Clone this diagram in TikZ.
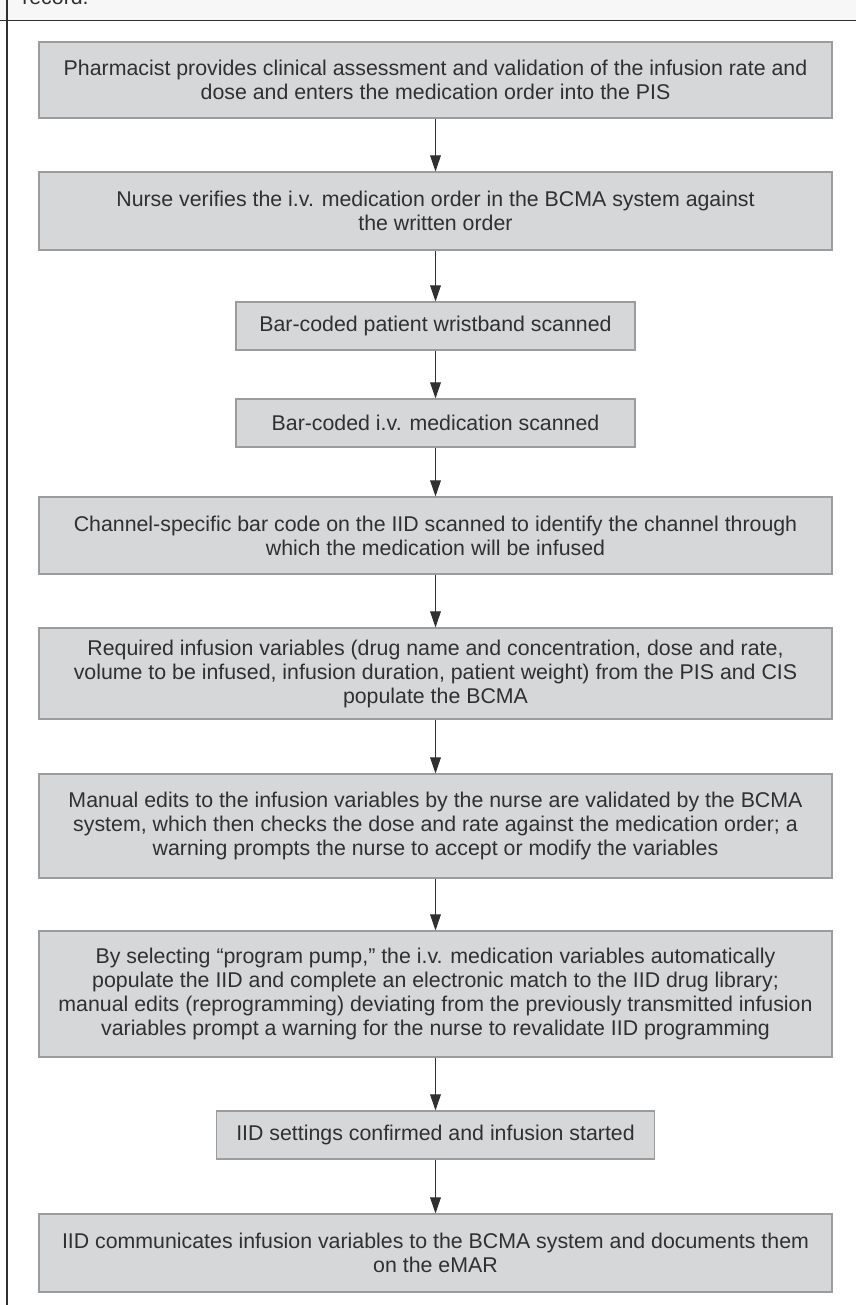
\documentclass[tikz,border=0pt]{standalone}
\usepackage{fontspec}
\setmainfont{Liberation Sans}
\usetikzlibrary{arrows.meta}
\usetikzlibrary{positioning}
\definecolor{boxfill}{HTML}{D6D7D9}
\definecolor{boxline}{HTML}{9C9C9C}
\definecolor{ink}{HTML}{303030}
\definecolor{band}{HTML}{F7F7F7}

\begin{document}
\begin{tikzpicture}[x=0.75pt, y=-0.75pt,
    stepbox/.style={draw=boxline, line width=0.8pt, fill=boxfill, text=ink, font=\fontsize{16}{18}\selectfont, align=center, inner sep=0pt, minimum width=594.75pt, minimum height=#1*0.75pt},
    shortbox/.style={stepbox=48, minimum width=#1*0.75pt},
    flow/.style={draw=ink, line width=0.75pt, -{Triangle[length=12pt, width=8pt]}}]
    \useasboundingbox (0,0) rectangle (856,1305);
    \clip (0,0) rectangle (856,1305);
    % strip of the caption above
    \fill[band] (0,0) rectangle (856,21);
    \node[anchor=base west, inner sep=0pt, text=ink, font=\fontsize{16}{18}\selectfont] (rec) at (22,4.5) {record.};
    \draw[ink, line width=0.75pt] (0,21) -- (856,21);
    \draw[ink, line width=0.8pt] (7,0) -- (7,1305);
    % steps
    \node[stepbox=76] (pharm) at (435.5,80) {Pharmacist provides clinical assessment and validation of the infusion rate and\\dose and enters the medication order into the PIS};
    \node[stepbox=78] (nurse) at (435.5,211) {Nurse verifies the i.v. medication order in the BCMA system against\\the written order};
    \node[shortbox=399] (wrist) at (435.5,326) {Bar-coded patient wristband scanned};
    \node[shortbox=399] (med) at (435.5,423) {Bar-coded i.v. medication scanned};
    \node[stepbox=77] (chan) at (435.5,535.5) {Channel-specific bar code on the IID scanned to identify the channel through\\which the medication will be infused};
    \node[stepbox=91] (vars) at (435.5,673.5) {Required infusion variables (drug name and concentration, dose and rate,\\volume to be infused, infusion duration, patient weight) from the PIS and CIS\\populate the BCMA};
    \node[stepbox=104] (edits) at (435.5,826) {Manual edits to the infusion variables by the nurse are validated by the BCMA\\system, which then checks the dose and rate against the medication order; a\\warning prompts the nurse to accept or modify the variables};
    \node[stepbox=126] (pump) at (435.5,994) {By selecting “program pump,” the i.v. medication variables automatically\\populate the IID and complete an electronic match to the IID drug library;\\manual edits (reprogramming) deviating from the previously transmitted infusion\\variables prompt a warning for the nurse to revalidate IID programming};
    \node[shortbox=438] (start) at (435.5,1135) {IID settings confirmed and infusion started};
    \node[stepbox=78] (emar) at (435.5,1253) {IID communicates infusion variables to the BCMA system and documents them\\on the eMAR};
    % arrows
    \foreach \a/\b in {pharm/nurse, nurse/wrist, wrist/med, med/chan, chan/vars, vars/edits, edits/pump, pump/start, start/emar}
      \draw[flow] (\a) -- (\b);
\end{tikzpicture}
\end{document}
